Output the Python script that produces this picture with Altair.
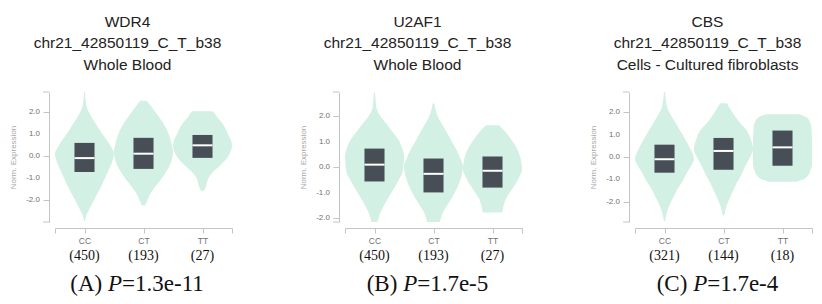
import altair as alt
import pandas as pd

# ---- data -------------------------------------------------------------
genotypes = ["CC", "CT", "TT"]
genes = ["WDR4", "U2AF1", "CBS"]
variant = "chr21_42850119_C_T_b38"
tissues = ["Whole Blood", "Whole Blood", "Cells - Cultured fibroblasts"]
sample_counts = [[450, 193, 27], [450, 193, 27], [321, 144, 18]]
panel_letters = ["A", "B", "C"]
p_values = ["1.3e-11", "1.7e-5", "1.7e-4"]
y_domains = [[-3.0, 2.9], [-2.15, 2.95], [-2.9, 2.9]]
y_ticks = [-2, -1, 0, 1, 2]

# box quartiles per genotype (CC, CT, TT)
q1 = [[-0.73, -0.59, -0.09], [-0.56, -0.99, -0.80], [-0.70, -0.57, -0.39]]
medians = [[-0.10, 0.10, 0.48], [0.10, -0.26, -0.14], [-0.10, 0.27, 0.43]]
q3 = [[0.59, 0.82, 0.95], [0.73, 0.34, 0.42], [0.55, 0.85, 1.18]]

# violin outlines: expression level and relative half-width (1 = widest)
wdr4_cc_expr = [2.9, 2.5, 2.2, 1.9, 1.5, 1.0, 0.5, 0.1, -0.3, -0.7, -1.1, -1.5, -1.9, -2.2, -2.5, -2.7, -2.95]
wdr4_cc_width = [0.02, 0.04, 0.08, 0.18, 0.36, 0.6, 0.86, 1.0, 0.93, 0.8, 0.66, 0.52, 0.36, 0.25, 0.13, 0.06, 0.02]
wdr4_ct_expr = [2.5, 2.35, 2.15, 1.9, 1.5, 1.0, 0.5, 0.2, -0.4, -0.7, -1.0, -1.5, -1.8, -2.0, -2.25]
wdr4_ct_width = [0.12, 0.2, 0.31, 0.45, 0.66, 0.85, 0.96, 1.0, 0.9, 0.78, 0.63, 0.34, 0.2, 0.14, 0.05]
wdr4_tt_expr = [2.03, 2.0, 1.8, 1.5, 1.0, 0.5, 0.0, -0.4, -0.7, -0.9, -1.2, -1.4, -1.58]
wdr4_tt_width = [0.3, 0.36, 0.47, 0.66, 0.86, 1.0, 0.88, 0.62, 0.38, 0.25, 0.15, 0.12, 0.05]

u2af1_cc_expr = [2.93, 2.6, 2.27, 2.0, 1.75, 1.4, 1.1, 0.7, 0.4, -0.2, -0.5, -0.86, -1.1, -1.39, -1.78, -2.15]
u2af1_cc_width = [0.02, 0.04, 0.08, 0.2, 0.37, 0.6, 0.8, 0.95, 1.0, 0.95, 0.82, 0.65, 0.52, 0.37, 0.2, 0.1]
u2af1_ct_expr = [2.5, 2.3, 2.0, 1.7, 1.36, 1.0, 0.7, 0.3, 0.05, -0.3, -0.6, -1.0, -1.25, -1.5, -1.78, -2.15]
u2af1_ct_width = [0.03, 0.06, 0.14, 0.28, 0.45, 0.62, 0.77, 0.92, 1.0, 0.96, 0.88, 0.72, 0.6, 0.46, 0.32, 0.22]
u2af1_tt_expr = [1.65, 1.5, 1.1, 0.7, 0.4, -0.1, -0.4, -0.73, -1.0, -1.25, -1.5, -1.78]
u2af1_tt_width = [0.23, 0.35, 0.63, 0.84, 0.94, 1.0, 0.9, 0.74, 0.58, 0.45, 0.38, 0.33]

cbs_cc_expr = [2.9, 2.5, 2.14, 1.8, 1.54, 1.2, 0.79, 0.4, -0.1, -0.4, -0.7, -1.1, -1.45, -1.8, -2.05, -2.4, -2.85]
cbs_cc_width = [0.02, 0.05, 0.11, 0.25, 0.37, 0.52, 0.7, 0.86, 1.0, 0.9, 0.76, 0.6, 0.43, 0.3, 0.2, 0.1, 0.02]
cbs_ct_expr = [2.4, 2.2, 2.0, 1.54, 1.2, 0.8, 0.35, 0.0, -0.4, -0.8, -1.15, -1.5, -1.75, -2.2, -2.6]
cbs_ct_width = [0.12, 0.2, 0.3, 0.55, 0.78, 0.92, 1.0, 0.9, 0.74, 0.6, 0.45, 0.33, 0.24, 0.1, 0.03]
cbs_tt_expr = [1.91, 1.8, 1.6, 1.3, 0.5, -0.3, -0.6, -0.85, -1.0, -1.1]
cbs_tt_width = [0.55, 0.78, 0.92, 0.98, 1.0, 1.0, 0.95, 0.85, 0.7, 0.45]

outlines = [
    [(wdr4_cc_expr, wdr4_cc_width), (wdr4_ct_expr, wdr4_ct_width), (wdr4_tt_expr, wdr4_tt_width)],
    [(u2af1_cc_expr, u2af1_cc_width), (u2af1_ct_expr, u2af1_ct_width), (u2af1_tt_expr, u2af1_tt_width)],
    [(cbs_cc_expr, cbs_cc_width), (cbs_ct_expr, cbs_ct_width), (cbs_tt_expr, cbs_tt_width)],
]

# ---- style ------------------------------------------------------------
MINT = "#d3f0e5"
BOX = "#474e56"
AXIS_GRAY = "#c4c4c4"
LABEL_GRAY = "#707070"
SANS = "Liberation Sans"
SERIF = "Liberation Serif"
PLOT_W, PLOT_H = 177, 130
AXIS_OFFSET, Y_TICK = 6, 6
BOX_HALF = 0.17
CAPTION_SIZE = 23

# Times-style advance widths (em) for laying out the caption pieces
SERIF_EM = {"(": 0.333, ")": 0.333, "A": 0.722, "B": 0.667, "C": 0.667,
            " ": 0.25, "=": 0.564, ".": 0.25, "e": 0.444, "-": 0.333}


def serif_width(s):
    return sum(SERIF_EM.get(ch, 0.5) for ch in s) * CAPTION_SIZE


def panel(i):
    rows = []
    for g, (ys, ws) in enumerate(outlines[i]):
        for y, w in sorted(zip(ys, ws)):
            rows.append({"genotype": genotypes[g], "level": y,
                         "vl": g - 0.5 * w, "vr": g + 0.5 * w})
    violin_df = pd.DataFrame(rows)

    box_df = pd.DataFrame({
        "pos": [0, 1, 2],
        "q1": q1[i], "q3": q3[i], "median": medians[i],
    })
    count_df = pd.DataFrame({"pos": [0, 1, 2],
                             "label": [f"({n})" for n in sample_counts[i]]})

    lo, hi = y_domains[i]
    xscale = alt.Scale(domain=[-0.5, 2.5], nice=False, zero=False)
    yscale = alt.Scale(domain=[lo, hi], nice=False, zero=False)

    xaxis = alt.Axis(
        values=[-0.5, 0, 1, 2, 2.5],
        labelExpr="datum.value == 0 ? 'CC' : datum.value == 1 ? 'CT' : datum.value == 2 ? 'TT' : ''",
        title=None, offset=AXIS_OFFSET, tickSize=5, labelPadding=3, grid=False,
        labelOverlap=False, labelFlush=False,
        domainColor=AXIS_GRAY, tickColor=AXIS_GRAY,
        labelColor=LABEL_GRAY, labelFontSize=8.5, labelFont=SANS,
    )
    # y tick labels are drawn as a text layer below, so the axis keeps
    # only its line, ticks and title
    yaxis = alt.Axis(
        values=y_ticks, labels=False,
        title="Norm. Expression", offset=AXIS_OFFSET, tickSize=Y_TICK,
        grid=False, domainColor=AXIS_GRAY, tickColor=AXIS_GRAY,
        titleColor="#a8a8a8", titleFontSize=8, titleFont=SANS,
        titleFontWeight="normal", titlePadding=25,
    )

    violin = (
        alt.Chart(violin_df)
        .mark_area(orient="horizontal", interpolate="monotone", color=MINT, opacity=1)
        .encode(
            y=alt.Y("level:Q", scale=yscale, axis=yaxis),
            x=alt.X("vl:Q", scale=xscale, axis=xaxis),
            x2="vr:Q",
            detail="genotype:N",
        )
    )

    # closing ticks at both ends of the y axis line
    end_df = pd.DataFrame({"end": [lo, hi]})
    y_ends = alt.Chart(end_df).mark_rule(color=AXIS_GRAY, strokeWidth=1).encode(
        y="end:Q",
        x=alt.value(-AXIS_OFFSET - Y_TICK),
        x2=alt.value(-AXIS_OFFSET),
    )

    tick_df = pd.DataFrame({"tick": y_ticks,
                            "text": [f"{t:.1f}" for t in y_ticks]})
    y_labels = alt.Chart(tick_df).mark_text(
        font=SANS, fontSize=8, color=LABEL_GRAY, align="right", baseline="middle",
    ).encode(y="tick:Q", x=alt.value(-AXIS_OFFSET - Y_TICK - 3), text="text:N")

    box_base = alt.Chart(box_df).transform_calculate(
        bl=f"datum.pos - {BOX_HALF}", br=f"datum.pos + {BOX_HALF}")
    boxes = box_base.mark_rect(color=BOX).encode(
        x="bl:Q", x2="br:Q", y="q1:Q", y2="q3:Q")
    median_line = box_base.mark_rule(color="white", strokeWidth=2).encode(
        x="bl:Q", x2="br:Q", y="median:Q")

    counts = alt.Chart(count_df).mark_text(
        font=SERIF, fontSize=14, color="#111", baseline="middle"
    ).encode(x="pos:Q", y=alt.value(PLOT_H + 34), text="label:N")

    # caption "(X) P=value" with an italic P
    head = f"({panel_letters[i]})"
    tail = f"={p_values[i]}"
    w_head = serif_width(head + " ")
    w_p = 0.611 * CAPTION_SIZE
    w_tail = serif_width(tail)
    total = w_head + w_p + w_tail
    anchor = -6 - total / 2 + w_head
    cap_df = pd.DataFrame({"pos": [1], "head": [head], "p": ["P"], "tail": [tail]})
    cap_base = alt.Chart(cap_df)
    cap_y = alt.value(PLOT_H + 62)
    cap_head = cap_base.mark_text(
        font=SERIF, fontSize=CAPTION_SIZE, color="#111", align="right",
        baseline="middle", dx=anchor - 0.25 * CAPTION_SIZE,
    ).encode(x="pos:Q", y=cap_y, text="head:N")
    cap_p = cap_base.mark_text(
        font=SERIF, fontSize=CAPTION_SIZE, fontStyle="italic", color="#111",
        align="left", baseline="middle", dx=anchor,
    ).encode(x="pos:Q", y=cap_y, text="p:N")
    cap_tail = cap_base.mark_text(
        font=SERIF, fontSize=CAPTION_SIZE, color="#111", align="left",
        baseline="middle", dx=anchor + w_p,
    ).encode(x="pos:Q", y=cap_y, text="tail:N")

    return alt.layer(violin, y_ends, y_labels, boxes, median_line, counts,
                     cap_head, cap_p, cap_tail).properties(
        width=PLOT_W,
        height=PLOT_H,
        title=alt.TitleParams(
            text=[genes[i], variant, tissues[i]],
            font=SANS, fontSize=15.5, fontWeight="normal", color="#222",
            lineHeight=21.7, anchor="middle", dx=-16, offset=18,
        ),
    )


chart = (
    alt.hconcat(*[panel(i) for i in range(3)], spacing=66)
    .properties(background="white",
                padding={"left": 9, "top": 14, "right": 5, "bottom": 2})
    .configure_view(strokeWidth=0)
)

chart.save("out.html", embed_options={"renderer": "svg", "actions": False})
